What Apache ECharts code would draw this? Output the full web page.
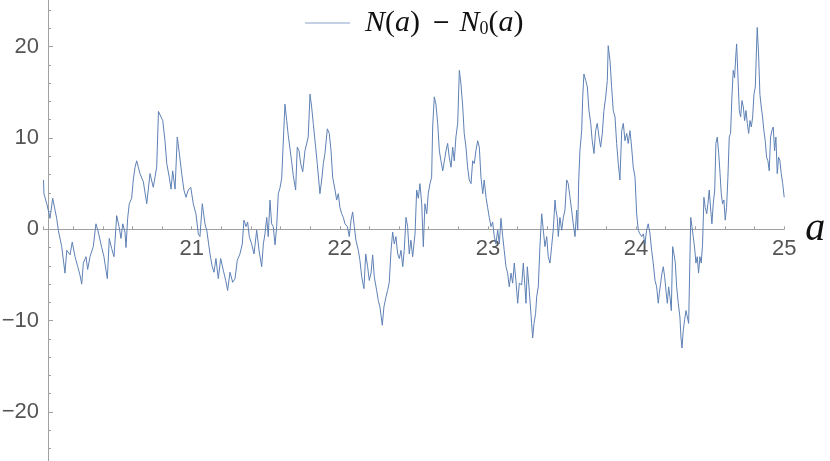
<!DOCTYPE html>
<html>
<head>
<meta charset="utf-8">
<script src="https://cdn.jsdelivr.net/npm/echarts@6/dist/echarts.min.js"></script>
<style>html,body{margin:0;padding:0;background:#fff;}#c{width:830px;height:461px;}</style>
</head>
<body>
<div id="c"></div>
<script>
// Data: [a, N(a) - N0(a)], grouped by unit interval of a
const seg20 = [[20.000,5.4],[20.003,3.9],[20.022,2.8],[20.032,2.1],[20.044,1.2],[20.055,1.0],[20.062,3.4],[20.078,2.1],[20.089,1.2],[20.100,-0.1],[20.123,-1.9],[20.145,-4.8],[20.157,-2.3],[20.167,-2.5],[20.179,-2.8],[20.194,-1.4],[20.213,-3.0],[20.231,-4.1],[20.246,-5.0],[20.258,-6.0],[20.269,-3.7],[20.287,-3.0],[20.298,-4.4],[20.314,-3.0],[20.336,-1.9],[20.354,0.6],[20.370,-0.3],[20.393,-2.0],[20.408,-3.0],[20.422,-4.5],[20.431,-5.4],[20.444,-1.0],[20.460,-2.1],[20.476,-3.0],[20.494,1.5],[20.510,0.3],[20.523,-1.0],[20.535,0.6],[20.550,-0.3],[20.557,-2.0],[20.568,1.2],[20.579,2.8],[20.595,3.4],[20.606,5.4],[20.618,6.8],[20.629,7.5],[20.651,6.1],[20.674,5.2],[20.697,2.8],[20.719,6.1],[20.741,4.6],[20.764,6.8],[20.776,12.9],[20.786,12.8],[20.805,11.9],[20.820,9.7],[20.832,7.2],[20.849,5.7],[20.861,4.4],[20.872,6.4],[20.888,4.4],[20.903,10.1],[20.917,8.3],[20.933,6.1],[20.948,4.3],[20.962,3.5],[20.977,4.3],[20.994,4.6]];
const seg21 = [[21.011,2.8],[21.029,1.7],[21.045,-0.5],[21.056,-0.8],[21.072,2.8],[21.090,0.6],[21.102,-0.1],[21.124,-2.7],[21.139,-4.1],[21.151,-4.7],[21.164,-3.2],[21.180,-5.4],[21.196,-3.2],[21.214,-4.5],[21.230,-5.6],[21.243,-6.7],[21.259,-4.7],[21.277,-5.8],[21.293,-5.4],[21.308,-3.4],[21.326,-2.7],[21.342,-1.6],[21.353,1.0],[21.367,0.3],[21.378,0.8],[21.389,-0.8],[21.405,-1.6],[21.421,-2.7],[21.439,-0.1],[21.455,-2.3],[21.473,-4.1],[21.484,-1.6],[21.495,-0.5],[21.507,1.3],[21.517,-0.8],[21.529,3.2],[21.540,0.6],[21.551,0.3],[21.563,-1.7],[21.574,0.3],[21.585,3.9],[21.596,4.5],[21.608,5.6],[21.617,9.0],[21.630,13.7],[21.642,11.9],[21.652,10.3],[21.664,8.8],[21.675,7.4],[21.686,5.9],[21.702,4.3],[21.713,9.0],[21.725,8.6],[21.736,7.2],[21.750,6.3],[21.765,8.6],[21.777,8.6],[21.787,10.1],[21.799,14.8],[21.810,13.4],[21.821,11.6],[21.837,9.0],[21.848,7.2],[21.866,3.9],[21.878,5.4],[21.889,7.2],[21.900,8.3],[21.916,11.0],[21.929,10.5],[21.941,8.6],[21.952,5.7],[21.968,4.3],[21.979,3.2],[21.990,3.9]];
const seg22 = [[22.001,2.4],[22.013,1.7],[22.024,1.3],[22.035,0.6],[22.051,0.3],[22.064,-0.8],[22.076,1.0],[22.087,1.9],[22.098,0.3],[22.109,-1.2],[22.125,-2.3],[22.136,-3.4],[22.148,-5.2],[22.163,-6.5],[22.175,-2.7],[22.188,-4.1],[22.199,-5.6],[22.211,-4.8],[22.222,-2.8],[22.233,-5.2],[22.249,-6.7],[22.260,-7.8],[22.271,-8.5],[22.287,-10.5],[22.298,-8.5],[22.312,-7.4],[22.323,-6.7],[22.334,-5.8],[22.346,-2.3],[22.357,-0.3],[22.368,-1.6],[22.379,-0.8],[22.391,-2.7],[22.402,-3.2],[22.413,-2.3],[22.425,-4.1],[22.435,-2.3],[22.447,1.3],[22.458,0.3],[22.469,-2.7],[22.480,-1.2],[22.492,-3.0],[22.508,-0.5],[22.519,4.3],[22.530,3.4],[22.541,5.0],[22.553,2.8],[22.564,-1.9],[22.575,2.8],[22.587,1.7],[22.597,3.9],[22.609,5.0],[22.620,5.7],[22.627,11.2],[22.638,14.5],[22.649,13.7],[22.661,11.6],[22.672,8.6],[22.683,7.5],[22.695,6.4],[22.705,6.4],[22.717,8.6],[22.728,9.4],[22.739,7.9],[22.751,6.8],[22.762,9.0],[22.773,7.5],[22.784,10.1],[22.796,11.6],[22.807,17.4],[22.818,15.9],[22.830,13.4],[22.840,10.5],[22.852,9.0],[22.863,6.8],[22.874,5.4],[22.886,5.0],[22.897,7.5],[22.908,7.2],[22.919,8.6],[22.931,9.7],[22.942,9.0],[22.953,5.7],[22.965,3.9],[22.975,5.4],[22.987,3.5],[22.998,2.4]];
const seg23 = [[23.009,1.3],[23.021,0.3],[23.032,0.8],[23.043,-0.8],[23.054,-1.6],[23.066,-0.1],[23.077,-1.6],[23.088,1.2],[23.100,-0.8],[23.110,-2.3],[23.122,-4.1],[23.133,-4.8],[23.144,-6.3],[23.156,-4.8],[23.167,-5.9],[23.178,-3.7],[23.189,-5.6],[23.201,-8.1],[23.212,-5.9],[23.228,-6.1],[23.239,-3.7],[23.250,-6.3],[23.257,-8.1],[23.266,-4.1],[23.279,-6.7],[23.295,-10.3],[23.302,-11.9],[23.311,-10.3],[23.322,-9.2],[23.329,-7.4],[23.340,-6.3],[23.351,-1.9],[23.363,1.7],[23.374,-0.1],[23.385,-1.9],[23.397,-0.8],[23.407,-3.0],[23.419,-3.7],[23.430,-1.9],[23.441,-0.1],[23.453,3.2],[23.459,2.1],[23.468,1.3],[23.475,-0.8],[23.486,1.3],[23.498,-0.1],[23.509,1.3],[23.520,2.1],[23.532,5.4],[23.542,5.0],[23.554,3.5],[23.565,2.1],[23.576,0.6],[23.588,-0.8],[23.599,2.1],[23.606,-0.1],[23.613,5.4],[23.621,8.6],[23.633,10.8],[23.640,14.5],[23.648,17.0],[23.660,16.3],[23.671,15.6],[23.682,13.0],[23.694,11.6],[23.704,9.7],[23.716,8.3],[23.727,10.8],[23.738,11.6],[23.750,10.1],[23.761,9.0],[23.772,10.5],[23.783,13.0],[23.795,14.5],[23.806,16.3],[23.812,20.1],[23.824,18.5],[23.835,15.6],[23.846,13.0],[23.858,12.3],[23.869,9.4],[23.880,7.2],[23.891,5.4],[23.903,10.8],[23.914,11.6],[23.925,9.7],[23.937,10.5],[23.947,9.4],[23.959,10.8],[23.970,9.0],[23.981,6.8],[23.993,5.7]];
const seg24 = [[24.004,1.7],[24.015,-0.1],[24.026,-0.5],[24.038,-0.8],[24.049,-0.5],[24.060,-1.6],[24.071,-0.1],[24.082,0.6],[24.094,-0.5],[24.105,-2.3],[24.116,-3.7],[24.128,-5.6],[24.139,-6.3],[24.150,-8.1],[24.157,-7.0],[24.166,-5.9],[24.175,-4.8],[24.184,-4.1],[24.193,-5.2],[24.202,-6.7],[24.211,-8.1],[24.220,-6.3],[24.229,-7.4],[24.238,-8.9],[24.247,-1.9],[24.256,-2.7],[24.265,-3.7],[24.274,-6.3],[24.285,-8.1],[24.296,-9.6],[24.303,-11.8],[24.310,-13.0],[24.319,-11.0],[24.328,-9.9],[24.337,-8.9],[24.346,-9.6],[24.355,-10.3],[24.369,1.3],[24.377,0.3],[24.386,-0.8],[24.397,-2.3],[24.404,-3.7],[24.413,-3.0],[24.422,-4.8],[24.431,-3.0],[24.440,-3.7],[24.449,-1.6],[24.458,3.5],[24.467,2.4],[24.477,1.7],[24.485,2.8],[24.494,4.3],[24.504,2.1],[24.512,0.6],[24.521,2.8],[24.531,4.3],[24.539,9.4],[24.548,10.1],[24.558,8.3],[24.567,6.1],[24.575,3.9],[24.584,2.8],[24.593,3.2],[24.602,1.0],[24.611,2.4],[24.620,5.7],[24.629,10.1],[24.638,10.5],[24.647,14.5],[24.656,17.4],[24.665,16.6],[24.674,19.2],[24.679,20.3],[24.688,16.6],[24.697,13.0],[24.706,12.3],[24.715,14.1],[24.724,13.4],[24.733,11.9],[24.742,13.0],[24.751,11.6],[24.760,10.5],[24.769,11.9],[24.778,11.2],[24.787,12.3],[24.796,14.8],[24.805,15.6],[24.814,20.3],[24.818,22.1],[24.827,19.2],[24.836,14.8],[24.845,13.4],[24.854,12.3],[24.863,10.8],[24.872,9.7],[24.881,7.9],[24.890,7.5],[24.899,6.4],[24.908,10.1],[24.917,10.8],[24.926,11.2],[24.935,8.6],[24.944,10.1],[24.953,6.1],[24.962,7.9],[24.971,7.5],[24.980,6.1],[24.990,5.0],[25.000,3.5]];

const xTicks = [21, 22, 23, 24, 25];
const yTicks = [-20, -10, 0, 10, 20];
const seriesName = 'N(a) - N0(a)';

const data = [].concat(seg20, seg21, seg22, seg23, seg24);

const axisGray = '#a0a0a0';
const labelGray = '#555555';
const labelFont = 'Liberation Sans';
const serif = 'Liberation Serif';
const legendSize = 30;

const chart = echarts.init(document.getElementById('c'), null, {renderer: 'canvas'});
chart.setOption({
  animation: false,
  backgroundColor: '#ffffff',
  grid: [
    {left: 43.5, width: 740.7, top: -44.7, height: 548, containLabel: false, outerBoundsMode: 'none'},
    {left: 43.5, width: 740.7, top: 0, height: 229.3, containLabel: false, outerBoundsMode: 'none'}
  ],
  legend: {
    show: true,
    left: 300,
    top: 3,
    icon: 'rect',
    itemWidth: 45,
    itemHeight: 1,
    itemStyle: {color: '#8aa4cc'},
    data: [seriesName],
    formatter: function () {
      return '{i0|N}{n|(}{i|a}{n|)}{m|\u2212}{i|N}{s|0}{n|(}{i|a}{n|)}';
    },
    textStyle: {
      fontFamily: serif,
      fontSize: legendSize,
      color: '#111',
      rich: {
        i0: {fontFamily: serif, fontStyle: 'italic', fontSize: legendSize, color: '#111', padding: [0, 0, 0, 10]},
        i: {fontFamily: serif, fontStyle: 'italic', fontSize: legendSize, color: '#111'},
        n: {fontFamily: serif, fontSize: legendSize, color: '#111'},
        m: {fontFamily: 'DejaVu Sans', fontSize: 22, color: '#111', padding: [0, 9, 0, 12]},
        s: {fontFamily: serif, fontSize: 18, color: '#111', padding: [12, 0, 0, 0]}
      }
    }
  },
  xAxis: [
    {type: 'value', gridIndex: 0, min: 20, max: 25, show: false},
    {
      type: 'value',
      gridIndex: 1,
      position: 'bottom',
      min: 20,
      max: 25,
      interval: 1,
      name: 'a',
      nameLocation: 'end',
      nameGap: 21,
      nameTextStyle: {fontFamily: serif, fontStyle: 'italic', fontSize: 40, color: '#111', padding: [0, 0, 6, 0]},
      axisLine: {show: true, onZero: false, lineStyle: {color: axisGray, width: 1}},
      axisTick: {show: true, inside: true, length: 3, lineStyle: {color: axisGray}},
      minorTick: {show: true, splitNumber: 5, length: 3, lineStyle: {color: axisGray}},
      splitLine: {show: false},
      minorSplitLine: {show: false},
      axisLabel: {
        show: true, margin: 9, fontFamily: labelFont, fontSize: 22, color: labelGray,
        showMinLabel: true, showMaxLabel: true,
        formatter: function (v) { return xTicks.indexOf(Math.round(v)) >= 0 ? String(Math.round(v)) : ''; }
      }
    }
  ],
  yAxis: [
    {
      type: 'value',
      gridIndex: 0,
      min: -30,
      max: 30,
      interval: 10,
      offset: -4.5,
      axisLine: {show: true, onZero: false, lineStyle: {color: axisGray, width: 1}},
      axisTick: {show: true, inside: true, length: 5, lineStyle: {color: axisGray}},
      minorTick: {show: true, splitNumber: 5, length: 3, lineStyle: {color: axisGray}},
      splitLine: {show: false},
      minorSplitLine: {show: false},
      axisLabel: {
        show: true, margin: 9, fontFamily: labelFont, fontSize: 22, color: labelGray,
        formatter: function (v) {
          if (yTicks.indexOf(v) < 0) return '';
          return v < 0 ? '\u2212' + Math.abs(v) : String(v);
        }
      }
    },
    {type: 'value', gridIndex: 1, min: 0, max: 1, show: false}
  ],
  series: [{
    name: seriesName,
    type: 'line',
    xAxisIndex: 0,
    yAxisIndex: 0,
    data: data,
    symbol: 'none',
    showSymbol: false,
    clip: false,
    lineStyle: {color: '#5e81b5', width: 1},
    itemStyle: {color: '#5e81b5'},
    emphasis: {disabled: true}
  }]
});
</script>
</body>
</html>
